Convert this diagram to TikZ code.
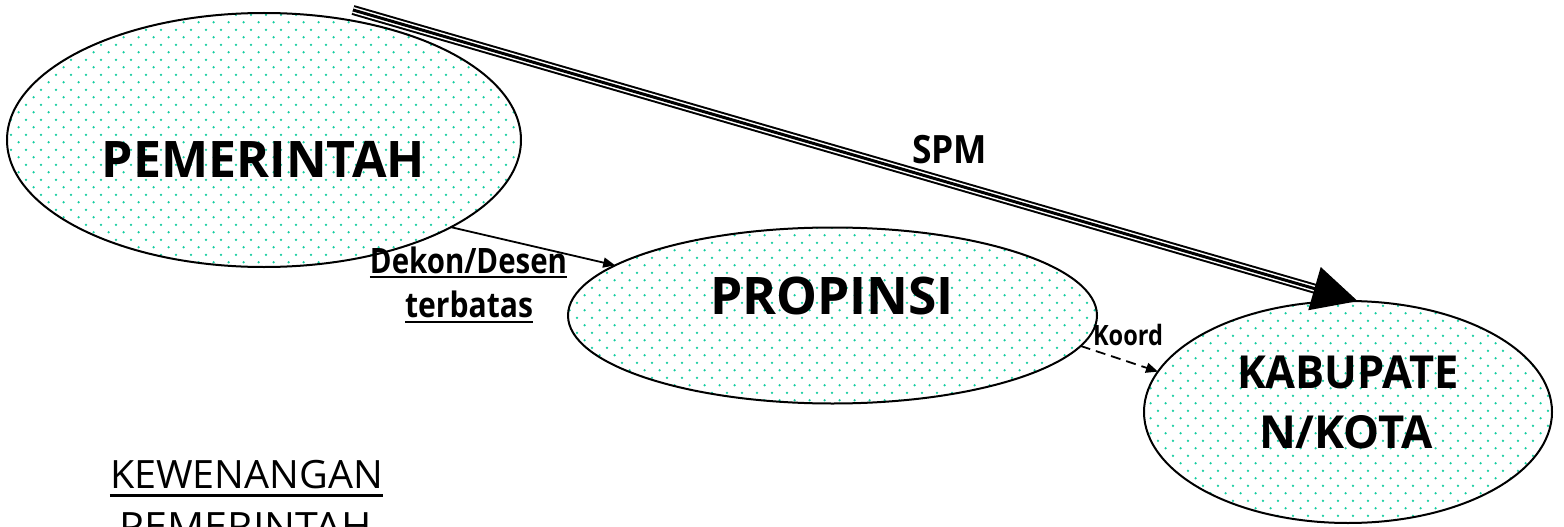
\documentclass[tikz,border=0pt]{standalone}
\usepackage{fontspec}
\setmainfont{Open Sans}
\usepackage{graphicx}
\usetikzlibrary{arrows.meta,calc,patterns.meta,shapes.geometric}
\definecolor{dotc}{RGB}{20,205,160}
\newsavebox\ulsave
\newcommand\fitw[2]{\resizebox{#1}{\height}{#2}}
\newcommand\ulb[3]{\sbox\ulsave{#3}\rlap{\usebox\ulsave}\rule[\dimexpr-#1-#2/2\relax]{\wd\ulsave}{#2}}
\tikzdeclarepattern{
  name=mintdots,
  bottom left={(0pt,0pt)},
  top right={(15.3pt,15.4pt)},
  tile size={(15.3pt,15.4pt)},
  code={
    \fill (3.8pt,3.85pt) circle[radius=1.35pt];
    \fill (11.45pt,11.55pt) circle[radius=1.35pt];
  }
}
\tikzset{
  blob/.style={ellipse, draw=black, line width=2pt, pattern={mintdots}, pattern color=dotc, inner sep=0pt, outer sep=0pt},
  lbl/.style={inner sep=0pt, outer sep=0pt, anchor=base, text=black},
  bigfont/.style={font=\fontsize{50.4}{60}\selectfont\bfseries},
  kabfont/.style={font=\fontsize{45.5}{55}\selectfont\bfseries},
  linkarrow/.style={line width=1.8pt, -{Triangle[length=12pt,width=10pt]}},
  dasharrow/.style={line width=1.8pt, dash pattern=on 10pt off 6pt, -{Triangle[length=12pt,width=10pt]}},
}
\begin{document}
\begin{tikzpicture}[x=1pt,y=-1pt]
\path[use as bounding box] (0,0) rectangle (1564,527);
\fill[white] (0,0) rectangle (1564,527);
\clip (0,0) rectangle (1564,527);

% ellipses
\node[blob, minimum width=514pt, minimum height=254pt] (pem) at (264,140) {};
\node[blob, minimum width=529pt, minimum height=176pt] (prop) at (832.5,315.5) {};
\node[blob, minimum width=408pt, minimum height=222pt] (kab) at (1348,412) {};

% labels inside ellipses
\node[lbl, bigfont] (pemt) at (263.5,177) {\fitw{323pt}{PEMERINTAH}};
\node[lbl, font=\fontsize{51.8}{60}\selectfont\bfseries] (propt) at (832,314) {\fitw{244pt}{PROPINSI}};
\node[lbl, kabfont] (kabt1) at (1348,388) {\fitw{222pt}{KABUPATE}};
\node[lbl, kabfont] (kabt2) at (1346,448) {\fitw{174pt}{N/KOTA}};

% connectors
\draw[linkarrow] (pem.-25) -- (prop.167);
\draw[dasharrow] (prop.-7.8) -- (kab.168.5);

\coordinate (spmS) at (353,10);
\coordinate (spmE) at (kab.85);
\coordinate (spmB) at ($(spmE)!45pt!(spmS)$);
\coordinate (spmL) at ($(spmE)!42pt!(spmS)$);
\draw[line width=10pt] (spmS) -- (spmL);
\draw[white, line width=6pt] (spmS) -- (spmL);
\draw[line width=3pt] (spmS) -- (spmL);
\fill (spmE) -- ($(spmB)!22.5pt!90:(spmE)$) -- ($(spmB)!22.5pt!-90:(spmE)$) -- cycle;

% connector labels
\node[lbl, font=\fontsize{39}{45}\selectfont\bfseries] (spm) at (949.5,163) {\fitw{75pt}{SPM}};
\node[lbl, font=\fontsize{35}{40}\selectfont\bfseries] (dekon) at (468.5,273) {\ulb{4pt}{2.6pt}{\fitw{197pt}{Dekon/Desen}}};
\node[lbl, font=\fontsize{35}{40}\selectfont\bfseries] (terb) at (469,317) {\ulb{5pt}{2.6pt}{\fitw{128pt}{terbatas}}};
\node[lbl, font=\fontsize{28}{32}\selectfont\bfseries] (koord) at (1128,345) {\fitw{70pt}{Koord}};

% caption
\node[lbl, font=\fontsize{39}{45}\selectfont] (kew1) at (246.5,488) {\ulb{7pt}{3pt}{\fitw{273pt}{KEWENANGAN}}};
\node[lbl, font=\fontsize{39}{45}\selectfont] (kew2) at (246,540) {\fitw{252pt}{PEMERINTAH}};
\end{tikzpicture}
\end{document}
